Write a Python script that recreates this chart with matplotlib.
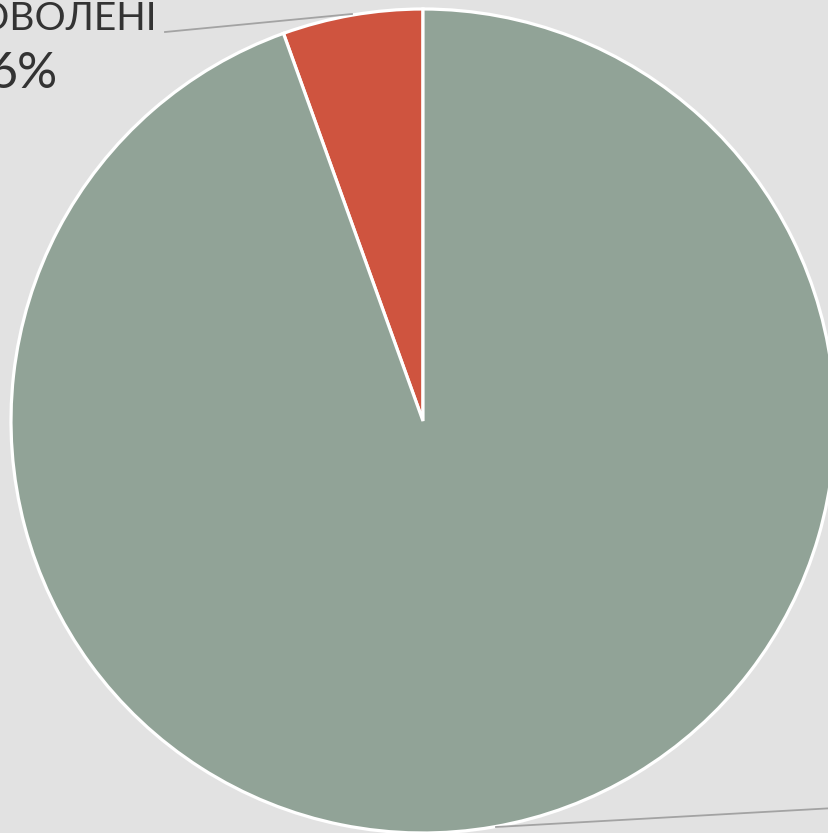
import matplotlib
matplotlib.use("Agg")
import matplotlib.pyplot as plt

categories = ["Незадоволені", "Задоволені"]
values = [5.5, 94.5]
pct_labels = ["6%", "94%"]
colors = ["#cf543f", "#91a397"]

W, H = 829, 833
fig = plt.figure(figsize=(W / 100, H / 100), dpi=100)
fig.patch.set_facecolor("#e2e2e2")
ax = fig.add_axes([0, 0, 1, 1])
ax.set_facecolor("#e2e2e2")

cx, cy, r = 423, H - 421, 412
ax.pie(values, colors=colors, startangle=90, counterclock=True,
       center=(cx, cy), radius=r, frame=True,
       wedgeprops=dict(edgecolor="white", linewidth=2.3))
ax.set_xlim(0, W)
ax.set_ylim(0, H)
ax.set_aspect("equal")
ax.axis("off")

font = ["Lato", "DejaVu Sans"]
# label for first slice (partially off canvas, as in the reference)
ax.text(157, H - 30, categories[0].upper(), ha="right", va="baseline",
        fontsize=28, color="#333333", family=font)
ax.text(58, H - 88, pct_labels[0], ha="right", va="baseline",
        fontsize=36, color="#333333", family=font)
ax.plot([165, 352], [H - 32, H - 14], color="#a3a3a3", lw=1.3)
# leader for second slice (its label lies outside the canvas)
ax.plot([496, 835], [H - 827, H - 808], color="#a3a3a3", lw=1.3, clip_on=False)

fig.savefig("out.png", dpi=100, facecolor=fig.get_facecolor())
